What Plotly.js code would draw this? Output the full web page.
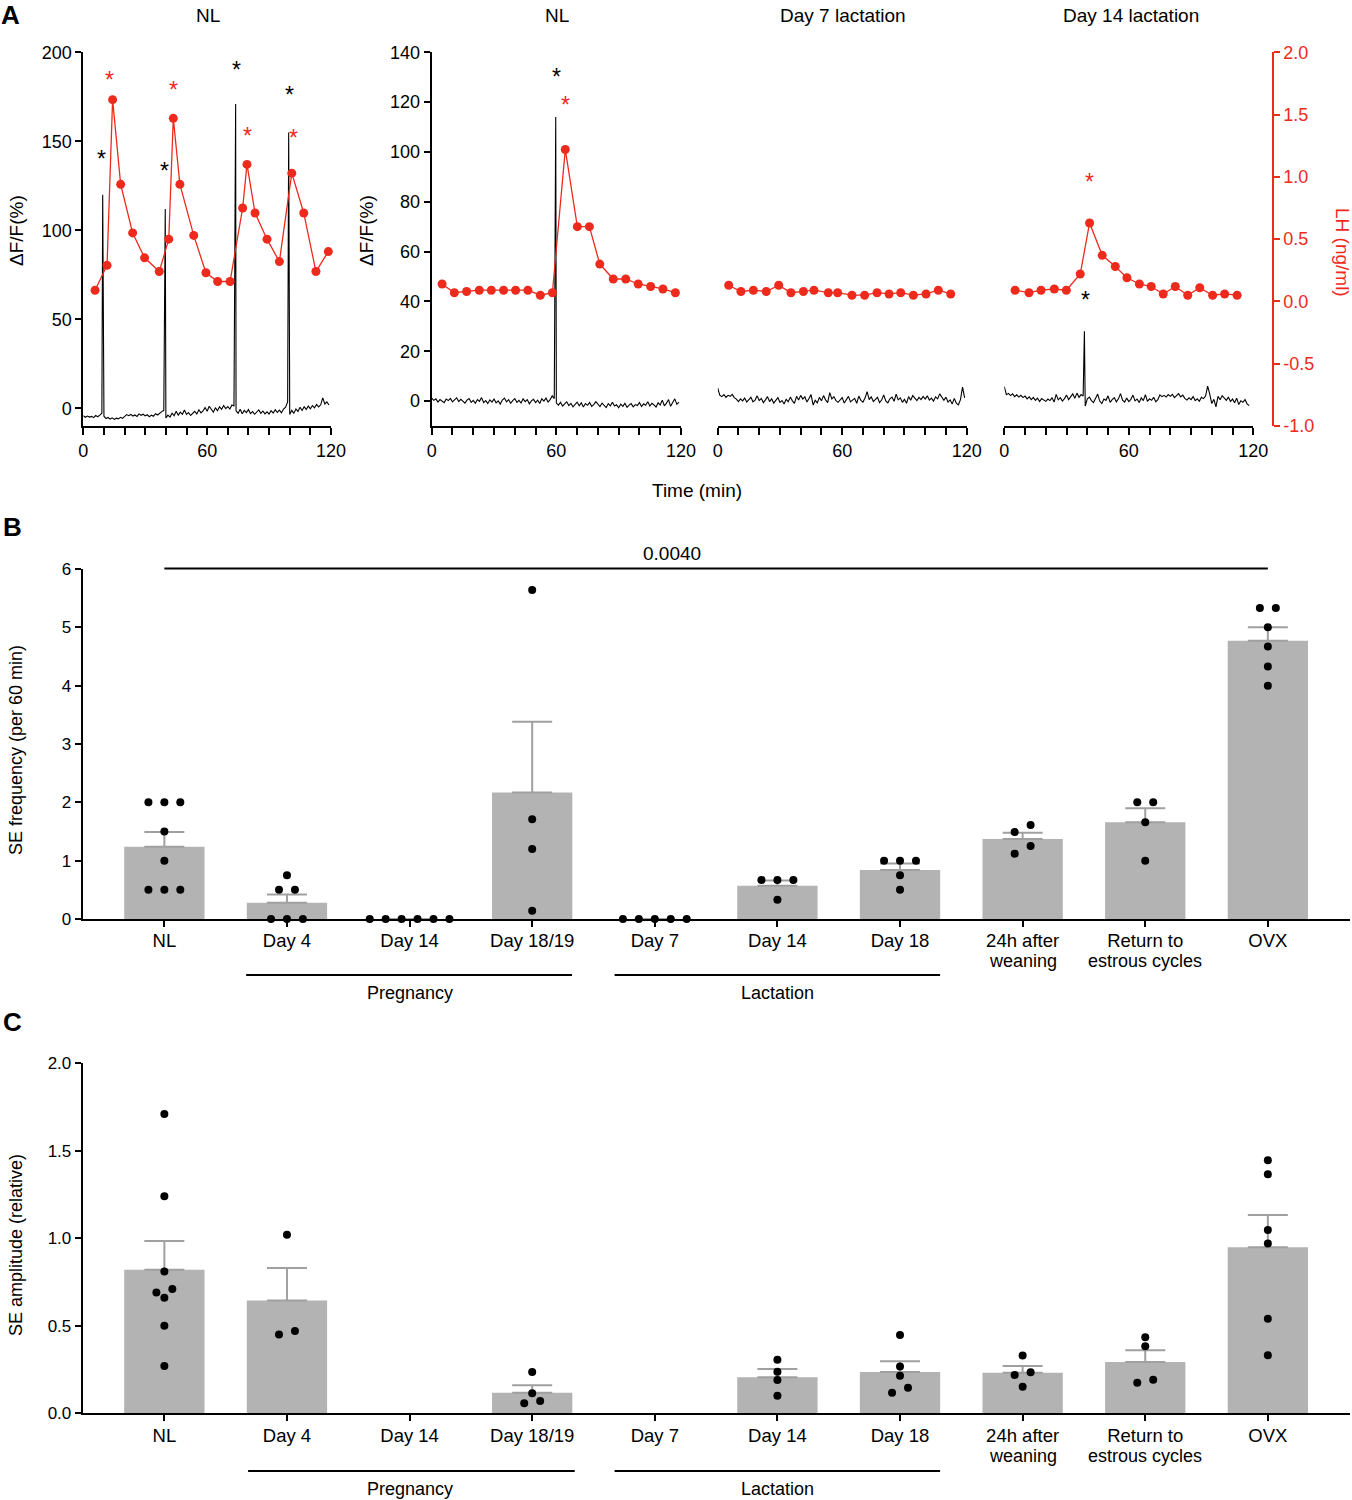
<!DOCTYPE html>
<html>
<head>
<meta charset="utf-8">
<script src="https://cdn.plot.ly/plotly-3.0.1.min.js"></script>
<style>
  body { margin: 0; background: #fff; }
  #grafica { width: 1352px; height: 1500px; }
</style>
</head>
<body>
<div id="grafica"></div>
<script>
const FUENTE = 'Liberation Sans, Arial, sans-serif';
const ROJO = '#ee2a1d';
const GRIS_BARRA = '#b3b3b3';
const GRIS_ERROR = '#a0a0a0';

// ---- Panel A: trazas de fotometria (dF/F, un valor por minuto) ----
const trazaNL1 = [
  -4.2, -5.1, -4.4, -5.0, -4.6, -5.3, -4.1, -4.8, -3.9, -2.8,
  -4.5, -5.8, -5.2, -6.1, -5.4, -6.3, -5.6, -6.0, -5.1, -5.7,
  -4.9, -3.6, -4.2, -3.5, -4.4, -3.8, -4.6, -3.2, -4.0, -3.4,
  -4.3, -3.7, -4.8, -3.9, -4.5, -3.1, -3.8, -2.6, -1.9, -1.2,
  -5.5, -3.9, -5.0, -2.8, -4.2, -1.7, -3.9, -2.2, -3.4, -1.0,
  -3.5, -2.4, -4.1, -2.9, -1.8, -3.3, -0.9, -2.6, -1.5, 0.4,
  -1.7, 1.1, -0.8, -2.2, 0.3, -1.4, 0.8, -0.6, 1.5, -0.2,
  0.9, -0.5, 1.8, 1.3, -1.5, -2.8, -0.6, -3.1, -1.2, -2.5,
  -0.8, -3.0, -1.9, -3.4, -2.2, -1.0, -2.9, -1.6, -3.2, -2.0,
  -3.3, -1.4, -2.7, -0.9, -2.4, -1.1, -2.6, -0.5, 0.6, 3.5,
  -3.6, -1.2, -2.9, -0.4, -1.8, 0.5, -1.3, 0.8, -0.7, 1.2,
  -0.3, 1.5, 0.2, 2.1, 0.7, 1.9, 5.8, 2.4, 3.6, 1.8
];
const picosNL1 = [[9.4, 120], [39.7, 112], [73.8, 171], [99.5, 155]];

const trazaNL2 = [
  1.2, 0.3, 0.9, -0.4, 0.6, 0.1, -0.6, 0.8, 0.2, 1.1,
  -0.3, 0.5, 1.3, -0.2, 0.7, 0.0, -0.8, 0.4, 1.0, -0.5,
  0.3, -0.9, 0.6, -0.1, 1.4, -0.6, 0.2, -1.0, 0.5, -0.4,
  0.8, -0.7, 0.1, -1.2, 0.4, 1.2, -0.3, 0.6, -0.9, 0.2,
  1.0, -0.5, 0.3, -0.8, 0.9, -0.2, 0.6, -1.1, 0.1, 0.7,
  -0.6, 0.4, -1.0, 0.9, 0.0, 1.2, -0.4, 0.6, 2.1, 1.0,
  -0.8, -1.6, -0.5, -2.0, -1.1, -0.3, -1.8, -0.9, -2.3, -1.2,
  -0.4, -1.9, -0.7, -2.4, -1.0, -1.7, -0.6, -2.1, -1.4, -0.2,
  -1.3, -2.2, -0.8, -1.6, -2.6, -1.0, -1.9, -0.5, -2.0, -1.5,
  -2.7, -1.2, -2.1, -0.9, -2.5, -1.6, -1.0, -2.3, -1.4, -1.8,
  -0.6, -2.2, -1.1, -1.7, -0.3, -2.0, -0.9, -1.5, -2.4, -0.7,
  -1.6, 0.4, -1.9, -0.8, 0.6, -2.1, -0.5, 0.9, -1.3, -0.4
];
const picosNL2 = [[59.7, 114]];

const trazaD7 = [
  5.2, 2.4, 1.8, 2.6, 1.5, 2.3, 1.9, 2.7, 1.4, 0.8,
  -0.2, 0.9, 0.1, 1.2, -0.4, 0.6, 1.5, -0.3, 0.4, 2.1,
  0.2, 1.1, -0.6, 0.5, 1.8, -0.2, 0.9, -0.8, 0.3, 1.4,
  -0.5, 0.2, -1.2, 0.7, -0.3, 1.6, 0.1, -0.9, 1.9, 0.4,
  2.3, 0.8, 1.7, -0.4, 1.0, 2.6, -1.6, 0.3, -0.7, 1.5,
  0.1, 2.2, 0.5, -0.6, 3.4, 0.9, 1.8, 0.2, -0.5, 0.7,
  1.4, -0.8, 0.6, 1.9, -0.3, 0.4, 1.1, -0.9, 2.0, 0.3,
  -0.4, 1.2, 3.8, 0.6, 1.7, -0.2, 0.8, 1.5, -0.6, 0.4,
  2.5, 0.1, -0.7, 0.9, 1.6, -0.1, 2.8, 0.5, 1.3, -0.5,
  0.7, -0.9, 1.8, 0.3, 2.2, 1.0, 0.2, 1.5, 0.6, 1.9,
  0.8, 2.1, 0.4, 1.2, 0.0, 1.7, 0.9, 2.9, 1.3, 0.3,
  1.6, -0.4, 0.5, -1.2, 1.1, -0.8, -1.5, 0.6, 5.6, 1.3
];
const picosD7 = [];

const trazaD14 = [
  5.8, 2.6, 3.1, 2.2, 2.9, 1.8, 2.5, 1.6, 2.3, 1.4,
  2.0, 0.9, 1.7, 0.6, 1.5, 0.3, 1.2, -0.2, 1.0, 0.4,
  -0.1, 0.8, 0.2, 1.3, -0.4, 2.7, 0.5, 1.4, 0.0, 1.0,
  2.4, 0.6, 1.8, 2.9, 1.1, 3.2, 1.5, 2.6, 2.0, -2.0,
  0.9, 1.6, 0.2, -0.6, 1.1, 2.8, 0.0, -1.0, 0.8, 0.3,
  2.1, -0.5, 0.6, 1.4, -0.3, 0.9, 3.0, 0.4, -0.4, 1.2,
  -0.2, 0.7, 2.4, 0.1, 0.8, -0.6, 1.3, 0.2, 2.6, -0.1,
  0.9, 0.3, 1.5, -0.3, 0.6, 2.5, 1.8, 2.3, 1.6, 2.6,
  1.9, 2.7, 1.4, 2.2, 3.0, 1.7, 2.4, 1.1, 0.4, 1.3,
  0.6, 1.8, 0.2, 0.9, -0.1, 1.5, 1.0, 2.0, 6.0, 2.8,
  -1.0, 0.7, -2.3, 1.9, 0.5, 2.2, 1.4, 0.3, 1.6, -0.2,
  0.8, -0.7, 1.2, -1.4, 0.1, -0.5, 0.6, -1.1, -1.8
];
const picosD14 = [[38.6, 28]];

// ---- Panel A: LH (ng/ml) ----
const tiempoLH_NL1 = [5.7, 11.5, 14.2, 18.1, 23.9, 29.7, 36.8, 41.4, 43.6, 46.8, 53.5, 59.4, 65.1, 71.1, 77.2, 79.3, 83.2, 89.0, 95.0, 101.0, 106.8, 112.7, 118.7];
const lhNL1 = [0.09, 0.29, 1.62, 0.94, 0.55, 0.35, 0.24, 0.50, 1.47, 0.94, 0.53, 0.23, 0.16, 0.16, 0.75, 1.10, 0.71, 0.50, 0.32, 1.03, 0.71, 0.24, 0.40];
const tiempoLH_NL2 = [5.0, 10.9, 16.8, 22.9, 28.7, 34.6, 40.4, 46.3, 52.3, 58.1, 64.3, 70.1, 75.9, 80.9, 87.4, 93.4, 99.4, 105.4, 111.3, 117.3];
const lhNL2 = [0.14, 0.07, 0.08, 0.09, 0.09, 0.09, 0.09, 0.09, 0.05, 0.07, 1.22, 0.60, 0.60, 0.30, 0.18, 0.18, 0.14, 0.12, 0.10, 0.07];
const tiempoLH_D7 = [5.3, 11.2, 17.2, 23.4, 29.4, 35.3, 41.3, 46.4, 53.3, 57.8, 64.7, 70.8, 76.8, 82.6, 88.2, 94.3, 100.4, 106.3, 112.3];
const lhD7 = [0.13, 0.08, 0.09, 0.08, 0.13, 0.07, 0.08, 0.09, 0.07, 0.07, 0.05, 0.05, 0.07, 0.06, 0.07, 0.05, 0.06, 0.09, 0.06];
const tiempoLH_D14 = [5.2, 11.9, 17.7, 24.1, 29.9, 36.6, 41.1, 47.2, 53.5, 59.1, 65.1, 70.8, 76.6, 82.4, 88.4, 94.2, 100.4, 106.2, 112.2];
const lhD14 = [0.09, 0.07, 0.09, 0.10, 0.09, 0.22, 0.63, 0.37, 0.28, 0.19, 0.14, 0.12, 0.06, 0.12, 0.05, 0.11, 0.05, 0.06, 0.05];

// asteriscos: [tiempo, valor]
const asteriscosNegrosNL1 = [[8.9, 143], [39.1, 136], [74, 193], [99.8, 179]];
const asteriscosRojosNL1 = [[12.9, 1.82], [43.6, 1.74], [79.5, 1.37], [101.7, 1.35]];
const asteriscosNegrosNL2 = [[60.2, 132]];
const asteriscosRojosNL2 = [[64.5, 1.62]];
const asteriscosNegrosD14 = [[38.9, 42.6]];
const asteriscosRojosD14 = [[41, 1.0]];

const ticksTiempo = [0, 10, 20, 30, 40, 50, 60, 70, 80, 90, 100, 110, 120];
const textosTiempo = ['0', '', '', '', '', '', '60', '', '', '', '', '', '120'];
const ticksLH = [-1, -0.5, 0, 0.5, 1, 1.5, 2];
const textosLH = ['-1.0', '-0.5', '0.0', '0.5', '1.0', '1.5', '2.0'];

// ---- Paneles B y C ----
const categorias = ['NL', 'Day 4', 'Day 14', 'Day 18/19', 'Day 7', 'Day 14', 'Day 18',
  '24h after<br>weaning', 'Return to<br>estrous cycles', 'OVX'];

const mediaFrecuencia = [1.24, 0.28, 0, 2.17, 0, 0.57, 0.84, 1.37, 1.66, 4.77];
const semFrecuencia = [0.25, 0.14, null, 1.21, null, 0.09, 0.11, 0.11, 0.24, 0.23];
const puntosFrecuencia = [
  [2, 2, 2, 1.5, 1, 0.5, 0.5, 0.5],
  [0.75, 0.5, 0.5, 0, 0, 0],
  [0, 0, 0, 0, 0, 0],
  [5.64, 1.71, 1.2, 0.14],
  [0, 0, 0, 0, 0],
  [0.67, 0.67, 0.67, 0.33],
  [1, 1, 1, 0.75, 0.5],
  [1.61, 1.49, 1.25, 1.12],
  [2, 2, 1.66, 1],
  [5.33, 5.33, 5, 4.67, 4.33, 4]
];

const mediaAmplitud = [0.82, 0.645, null, 0.118, null, 0.206, 0.236, 0.232, 0.293, 0.949];
const semAmplitud = [0.165, 0.185, null, 0.042, null, 0.047, 0.061, 0.038, 0.067, 0.184];
const puntosAmplitud = [
  [1.71, 1.24, 0.81, 0.71, 0.69, 0.66, 0.5, 0.27],
  [1.02, 0.47, 0.45],
  [],
  [0.236, 0.114, 0.07, 0.057],
  [],
  [0.306, 0.238, 0.19, 0.1],
  [0.447, 0.268, 0.215, 0.146, 0.118],
  [0.33, 0.234, 0.219, 0.152],
  [0.434, 0.383, 0.192, 0.175],
  [1.446, 1.366, 1.048, 0.971, 0.54, 0.331]
];

// ---- utilidades de posicion (pixeles -> papel) ----
const W = 1352, H = 1500;
function px(x) { return x / W; }
function py(y) { return 1 - y / H; }

function armarTraza(valores, picos) {
  let xs = [], ys = [];
  for (let i = 0; i < valores.length; i++) {
    xs.push(i); ys.push(valores[i]);
    picos.forEach(p => { if (p[0] > i && p[0] < i + 1) { xs.push(p[0]); ys.push(p[1]); } });
  }
  return {x: xs, y: ys};
}

const SEPARACION = 0.13;
function repartirPuntos(grupos, umbral) {
  let xs = [], ys = [];
  grupos.forEach((grupo, cat) => {
    let orden = grupo.slice().sort((a, b) => b - a);
    let filas = [];
    orden.forEach(v => {
      let f = filas[filas.length - 1];
      if (f && f[0] - v < umbral) f.push(v); else filas.push([v]);
    });
    filas.forEach(f => f.forEach((v, i) => {
      xs.push(cat + ((f.length - 1) / 2 - i) * SEPARACION);
      ys.push(v);
    }));
  });
  return {x: xs, y: ys};
}

function lineaNegra(traza, ejeX, ejeY) {
  return {type: 'scatter', mode: 'lines', x: traza.x, y: traza.y, xaxis: ejeX, yaxis: ejeY,
    line: {color: 'black', width: 1.1}, hoverinfo: 'skip'};
}
function lineaLH(tiempos, valores, ejeX, ejeY) {
  return {type: 'scatter', mode: 'lines+markers', x: tiempos, y: valores, xaxis: ejeX, yaxis: ejeY,
    line: {color: ROJO, width: 1.3}, marker: {color: ROJO, size: 9}, cliponaxis: false};
}

const datos = [
  lineaNegra(armarTraza(trazaNL1, picosNL1), 'x', 'y'),
  lineaLH(tiempoLH_NL1, lhNL1, 'x', 'y5'),
  lineaNegra(armarTraza(trazaNL2, picosNL2), 'x2', 'y2'),
  lineaLH(tiempoLH_NL2, lhNL2, 'x2', 'y6'),
  lineaNegra(armarTraza(trazaD7, picosD7), 'x3', 'y3'),
  lineaLH(tiempoLH_D7, lhD7, 'x3', 'y7'),
  lineaNegra(armarTraza(trazaD14, picosD14), 'x4', 'y4'),
  lineaLH(tiempoLH_D14, lhD14, 'x4', 'y8')
];

const posCategorias = categorias.map((c, i) => i);
function barras(medias, sems, ejeX, ejeY) {
  return {type: 'bar', x: posCategorias, y: medias, xaxis: ejeX, yaxis: ejeY, width: 0.655,
    marker: {color: GRIS_BARRA, line: {width: 0}},
    error_y: {type: 'data', symmetric: false, array: sems, arrayminus: sems.map(() => 0),
      color: GRIS_ERROR, thickness: 2, width: 20}};
}
function puntos(grupos, umbral, ejeX, ejeY) {
  let p = repartirPuntos(grupos, umbral);
  return {type: 'scatter', mode: 'markers', x: p.x, y: p.y, xaxis: ejeX, yaxis: ejeY,
    marker: {color: 'black', size: 8}, cliponaxis: false};
}
datos.push(barras(mediaFrecuencia, semFrecuencia, 'x5', 'y9'));
datos.push(puntos(puntosFrecuencia, 0.15, 'x5', 'y9'));
datos.push(barras(mediaAmplitud, semAmplitud, 'x6', 'y10'));
datos.push(puntos(puntosAmplitud, 0.04, 'x6', 'y10'));

// ---- ejes ----
const EJE = {showline: true, linecolor: 'black', linewidth: 2, ticks: 'outside', ticklen: 6,
  tickwidth: 2, tickcolor: 'black', showgrid: false, zeroline: false,
  tickfont: {size: 18, color: 'black'}};
const dominioA = [py(426), py(52.3)];
const ejeTiempo = {...EJE, range: [0, 120], tickvals: ticksTiempo, ticktext: textosTiempo, ticklen: 7};
const ejeOculto = {visible: false, showgrid: false, zeroline: false, range: [-1, 2]};

const anotaciones = [];
function texto(t, x, y, extra) {
  anotaciones.push(Object.assign({text: t, x: px(x), y: py(y), xref: 'paper', yref: 'paper',
    xanchor: 'center', yanchor: 'middle', showarrow: false, font: {size: 19, color: 'black'}}, extra || {}));
}
texto('<b>A</b>', 10, 15, {font: {size: 26, color: 'black'}});
texto('<b>B</b>', 12, 527, {font: {size: 26, color: 'black'}});
texto('<b>C</b>', 12, 1022, {font: {size: 26, color: 'black'}});
texto('NL', 208, 15);
texto('NL', 557, 15);
texto('Day 7 lactation', 843, 15);
texto('Day 14 lactation', 1131, 15);
texto('Time (min)', 697, 491);
texto('ΔF/F(%)', 16, 231, {textangle: -90});
texto('ΔF/F(%)', 366, 231, {textangle: -90});
texto('LH (ng/ml)', 1343, 252, {textangle: 90, font: {size: 19, color: ROJO}});
texto('SE frequency (per 60 min)', 16, 750, {textangle: -90, font: {size: 18, color: 'black'}});
texto('SE amplitude (relative)', 16, 1245, {textangle: -90, font: {size: 18, color: 'black'}});

function asteriscos(lista, ejeX, ejeY, color) {
  lista.forEach(a => anotaciones.push({text: '*', x: a[0], y: a[1], xref: ejeX, yref: ejeY,
    xanchor: 'center', yanchor: 'middle', showarrow: false, yshift: -5, font: {size: 23, color: color}}));
}
asteriscos(asteriscosNegrosNL1, 'x', 'y', 'black');
asteriscos(asteriscosRojosNL1, 'x', 'y5', ROJO);
asteriscos(asteriscosNegrosNL2, 'x2', 'y2', 'black');
asteriscos(asteriscosRojosNL2, 'x2', 'y6', ROJO);
asteriscos(asteriscosNegrosD14, 'x4', 'y4', 'black');
asteriscos(asteriscosRojosD14, 'x4', 'y8', ROJO);

// etiquetas de categoria: primera linea como tick, segunda linea aparte (interlineado mas corto)
const primeraLinea = categorias.map(c => c.split('<br>')[0]);
[['x5', 961], ['x6', 1456]].forEach(g => {
  categorias.forEach((c, i) => {
    let partes = c.split('<br>');
    if (partes.length > 1) {
      anotaciones.push({text: partes[1], x: i, y: py(g[1]), xref: g[0], yref: 'paper',
        xanchor: 'center', yanchor: 'middle', showarrow: false, font: {size: 18, color: 'black'}});
    }
  });
});

// grupos y significancia (B y C)
anotaciones.push({text: '0.0040', x: 4.14, y: py(554), xref: 'x5', yref: 'paper',
  xanchor: 'center', yanchor: 'middle', showarrow: false, font: {size: 19, color: 'black'}});
[['x5', 993], ['x6', 1489]].forEach(g => {
  anotaciones.push({text: 'Pregnancy', x: 2, y: py(g[1]), xref: g[0], yref: 'paper', showarrow: false,
    xanchor: 'center', yanchor: 'middle', font: {size: 18, color: 'black'}});
  anotaciones.push({text: 'Lactation', x: 5, y: py(g[1]), xref: g[0], yref: 'paper', showarrow: false,
    xanchor: 'center', yanchor: 'middle', font: {size: 18, color: 'black'}});
});

const LINEA = {color: 'black', width: 2};
const formas = [
  {type: 'line', xref: 'x5', yref: 'paper', x0: 0, x1: 9, y0: py(568.5), y1: py(568.5), line: LINEA},
  {type: 'line', xref: 'x5', yref: 'paper', x0: 0.667, x1: 3.325, y0: py(975), y1: py(975), line: LINEA},
  {type: 'line', xref: 'x5', yref: 'paper', x0: 3.672, x1: 6.327, y0: py(975), y1: py(975), line: LINEA},
  {type: 'line', xref: 'x6', yref: 'paper', x0: 0.683, x1: 3.347, y0: py(1471), y1: py(1471), line: LINEA},
  {type: 'line', xref: 'x6', yref: 'paper', x0: 3.672, x1: 6.327, y0: py(1471), y1: py(1471), line: LINEA}
];

const ejeCategorias = {...EJE, range: [-0.666, 9.67], tickvals: posCategorias, ticktext: primeraLinea,
  domain: [px(82.7), px(1350)], tickfont: {size: 18.5, color: 'black'}, ticklabelstandoff: -2};

const layout = {
  width: W, height: H, autosize: false, showlegend: false,
  margin: {l: 0, r: 0, t: 0, b: 0},
  paper_bgcolor: 'white', plot_bgcolor: 'rgba(0,0,0,0)',
  font: {family: FUENTE, color: 'black'},
  xaxis: {...ejeTiempo, domain: [px(83.3), px(331)], anchor: 'y'},
  yaxis: {...EJE, domain: dominioA, anchor: 'x', range: [-10, 200], tickvals: [0, 50, 100, 150, 200]},
  xaxis2: {...ejeTiempo, domain: [px(431.7), px(681)], anchor: 'y2'},
  yaxis2: {...EJE, domain: dominioA, anchor: 'x2', range: [-10, 140], tickvals: [0, 20, 40, 60, 80, 100, 120, 140]},
  xaxis3: {...ejeTiempo, domain: [px(717.7), px(966.7)], anchor: 'y3'},
  yaxis3: {visible: false, domain: dominioA, anchor: 'x3', range: [-10, 140]},
  xaxis4: {...ejeTiempo, domain: [px(1004.3), px(1253.3)], anchor: 'y4'},
  yaxis4: {visible: false, domain: dominioA, anchor: 'x4', range: [-10, 140]},
  yaxis5: {...ejeOculto, overlaying: 'y', anchor: 'x'},
  yaxis6: {...ejeOculto, overlaying: 'y2', anchor: 'x2'},
  yaxis7: {...ejeOculto, overlaying: 'y3', anchor: 'x3'},
  yaxis8: {...EJE, overlaying: 'y4', anchor: 'free', position: px(1272.7), side: 'right',
    range: [-1, 2], tickvals: ticksLH, ticktext: textosLH, linecolor: ROJO, tickcolor: ROJO,
    tickfont: {size: 18, color: ROJO}},
  xaxis5: {...ejeCategorias, anchor: 'y9'},
  yaxis9: {...EJE, domain: [py(919), py(569)], anchor: 'x5', range: [0, 6], dtick: 1,
    tickfont: {size: 17, color: 'black'}},
  xaxis6: {...ejeCategorias, anchor: 'y10'},
  yaxis10: {...EJE, domain: [py(1413.3), py(1063.3)], anchor: 'x6', range: [0, 2],
    tickvals: [0, 0.5, 1, 1.5, 2], ticktext: ['0.0', '0.5', '1.0', '1.5', '2.0'],
    tickfont: {size: 17, color: 'black'}},
  annotations: anotaciones,
  shapes: formas
};

Plotly.newPlot(document.getElementById('grafica'), datos, layout, {displayModeBar: false, staticPlot: true});
</script>
</body>
</html>
